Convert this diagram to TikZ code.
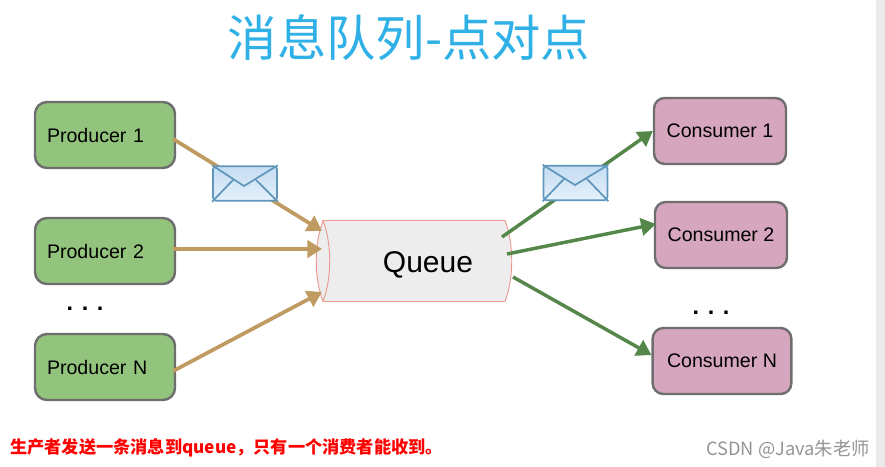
\documentclass[tikz,border=0pt]{standalone}
\usepackage{fontspec}
\setmainfont{Liberation Sans}
\newfontfamily\cjk{Noto Sans CJK SC}
\usetikzlibrary{arrows.meta}
\definecolor{producergreen}{HTML}{93C47D}
\definecolor{consumerpink}{HTML}{D5A6BD}
\definecolor{boxedge}{HTML}{6E6E6E}
\definecolor{intan}{HTML}{BF9B62}
\definecolor{outgreen}{HTML}{55874A}
\definecolor{queueedge}{HTML}{EC9A8E}
\definecolor{titleblue}{HTML}{2FB0E6}
\definecolor{mailedge}{HTML}{5F97BC}
\definecolor{mailtop}{HTML}{C4DCF2}
\definecolor{mailbottom}{HTML}{E6F1FB}
\begin{document}
\begin{tikzpicture}[%
        x=0.75pt,
        y=-0.75pt,
        producer/.style={%
            draw=boxedge, line width=1.8pt, rounded corners=9pt, fill=producergreen,
            minimum width=105pt, minimum height=49.5pt, inner xsep=9pt, text width=87pt, align=left,
            node font=\fontsize{14.7pt}{16pt}\selectfont,
        },
        consumer/.style={%
            draw=boxedge, line width=1.8pt, rounded corners=8pt, fill=consumerpink,
            minimum width=99pt, minimum height=49.5pt, inner xsep=2pt,
            node font=\fontsize{14.7pt}{16pt}\selectfont,
        },
        inarrow/.style={%
            draw=intan, line width=2.8pt, -{Triangle[length=11pt,width=13pt]},
        },
        outarrow/.style={%
            draw=outgreen, line width=2.6pt, -{Triangle[length=11pt,width=13pt]},
        },
        mail/.style={%
            draw=mailedge, line width=1.3pt, rounded corners=2.5pt, top color=mailtop, bottom color=mailbottom,
            minimum width=48pt, minimum height=26pt, inner sep=0pt,
        },
        flap/.style={%
            draw=mailedge, line width=1.3pt,
        },
        dots/.style={%
            node font=\fontsize{17.5pt}{20pt}\selectfont\bfseries,
        },
    ]

    \useasboundingbox (0,0) rectangle (885,467);
    \fill [black!8] (876,0) rectangle (885,467);

    \node (title) at (409,38) [text=titleblue, node font=\fontsize{37pt}{40pt}\selectfont\cjk] {消息队列-点对点};

    \node (producer_1) at (105,135) [producer] {Producer 1};
    \node (producer_2) at (105,251) [producer] {Producer 2};
    \node (producer_n) at (105,367) [producer] {Producer N};
    \node (producer_dots) at (85,309) [dots] {. . .};

    \node (consumer_1) at (720,131) [consumer] {Consumer 1};
    \node (consumer_2) at (721,235) [consumer] {Consumer 2};
    \node (consumer_n) at (722,361) [consumer, minimum width=104pt] {Consumer N};
    \node (consumer_dots) at (711,313) [dots] {. . .};

    % queue body with the two ends drawn over it
    \node (queue) at (414,261) [minimum width=136.5pt, minimum height=60.75pt, inner sep=0pt, outer sep=0pt] {};
    \fill [black!7] (queue.north west) -- (queue.north east)
        .. controls ([shift={(9,24)}]queue.north east) and ([shift={(9,-24)}]queue.south east) .. (queue.south east)
        -- (queue.south west)
        .. controls ([shift={(-9,-24)}]queue.south west) and ([shift={(-9,24)}]queue.north west) .. (queue.north west);
    \draw [draw=queueedge, line width=0.7pt] (queue.south west)
        .. controls ([shift={(9,-24)}]queue.south west) and ([shift={(9,24)}]queue.north west) .. (queue.north west)
        .. controls ([shift={(-9,24)}]queue.north west) and ([shift={(-9,-24)}]queue.south west) .. (queue.south west)
        -- (queue.south east)
        .. controls ([shift={(9,-24)}]queue.south east) and ([shift={(9,24)}]queue.north east) .. (queue.north east)
        -- (queue.north west);
    \node (queue_label) at (428,265) [node font=\fontsize{22.5pt}{24pt}\selectfont] {Queue};

    \coordinate (queue_in_1) at ([shift={(-1,-30)}]queue.west);
    \coordinate (queue_in_2) at ([shift={(-1,-12)}]queue.west);
    \coordinate (queue_in_n) at ([shift={(-1,31)}]queue.west);
    \coordinate (queue_out_1) at ([shift={(-3,-24)}]queue.east);
    \coordinate (queue_out_2) at ([shift={(2,-7)}]queue.east);
    \coordinate (queue_out_n) at ([shift={(8,16)}]queue.east);

    \draw [inarrow] ([shift={(-3,4)}]producer_1.east) -- (queue_in_1);
    \draw [inarrow] ([shift={(-3,-2)}]producer_2.east) -- (queue_in_2);
    \draw [inarrow] ([shift={(-3,4)}]producer_n.east) -- (queue_in_n);

    \draw [outarrow] (queue_out_1) -- (consumer_1.west);
    \draw [outarrow] (queue_out_2) -- ([shift={(2,-11)}]consumer_2.west);
    \draw [outarrow] (queue_out_n) -- ([shift={(0,-6)}]consumer_n.west);

    % envelopes sit on top of the arrows
    \node (mail_in) at (245,183.5) [mail] {};
    \draw [flap] (mail_in.north west) -- (244,186) -- (mail_in.north east);
    \draw [flap] (mail_in.south west) -- (233,180);
    \draw [flap] (mail_in.south east) -- (256,180);

    \node (mail_out) at (575.5,183) [mail] {};
    \draw [flap] (mail_out.north west) -- (575,185) -- (mail_out.north east);
    \draw [flap] (mail_out.south west) -- (564,179);
    \draw [flap] (mail_out.south east) -- (587,179);

    \node (note) at (10,448) [anchor=west, inner sep=0pt, text=red, node font=\fontsize{12.9pt}{14pt}\selectfont\cjk\bfseries] {生产者发送一条消息到queue，只有一个消费者能收到。};
    \node (mark) at (870,449) [anchor=east, inner sep=0pt, text=black!42, node font=\fontsize{13.7pt}{15pt}\selectfont\cjk] {CSDN @Java朱老师};
\end{tikzpicture}
\end{document}
